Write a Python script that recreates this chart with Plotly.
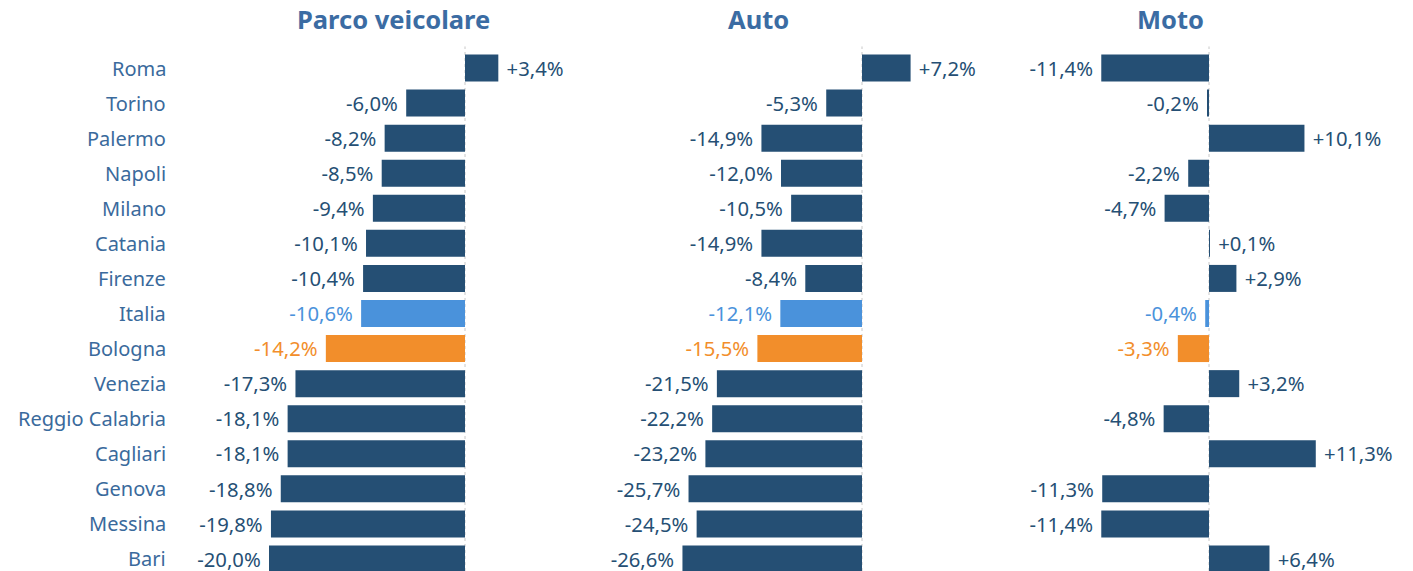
import plotly.graph_objects as go

cities = ["Roma", "Torino", "Palermo", "Napoli", "Milano", "Catania", "Firenze", "Italia",
          "Bologna", "Venezia", "Reggio Calabria", "Cagliari", "Genova", "Messina", "Bari"]
parco = [3.4, -6.0, -8.2, -8.5, -9.4, -10.1, -10.4, -10.6, -14.2, -17.3, -18.1, -18.1, -18.8, -19.8, -20.0]
auto = [7.2, -5.3, -14.9, -12.0, -10.5, -14.9, -8.4, -12.1, -15.5, -21.5, -22.2, -23.2, -25.7, -24.5, -26.6]
moto = [-11.4, -0.2, 10.1, -2.2, -4.7, 0.1, 2.9, -0.4, -3.3, 3.2, -4.8, 11.3, -11.3, -11.4, 6.4]
titles = ["Parco veicolare", "Auto", "Moto"]

W, H = 1413, 571
DARK = "#254f74"
BLUE = "#4a92db"
ORANGE = "#f28e2b"
LABEL = "#3a6a9c"
TITLE = "#3b6ca3"
FONT = "Noto Sans"

def color_for(c):
    return BLUE if c == "Italia" else ORANGE if c == "Bologna" else DARK

colors = [color_for(c) for c in cities]
NB = "\u00a0"

def fmt(v):
    s = f"{v:+.1f}%".replace(".", ",")
    return NB + s if v > 0 else s + NB

# panel pixel layout: (left px, right px, zero px, px per unit)
panels = [(175, 610, 465, 9.8), (620, 1000, 862, 6.75), (1010, 1413, 1209, 9.45)]
title_x = [393, 758, 1170]
row0_px, pitch = 68, 35.07
top_px = row0_px - pitch / 2
ybot = (H - row0_px) / pitch

fig = go.Figure()
shapes = []
annotations = []
for i, (vals, (lp, rp, zp, sc)) in enumerate(zip([parco, auto, moto], panels)):
    xa = "x" if i == 0 else f"x{i+1}"
    fig.add_trace(go.Bar(
        x=vals, y=cities, orientation="h", marker_color=colors, marker_line_width=0,
        text=[fmt(v) for v in vals], textposition="outside",
        textfont=dict(color=colors, size=21, family=FONT),
        cliponaxis=False, xaxis=xa, yaxis="y", hoverinfo="skip", showlegend=False,
    ))
    rng = [(lp - zp) / sc, (rp - zp) / sc]
    key = "xaxis" if i == 0 else f"xaxis{i+1}"
    fig.layout[key] = dict(domain=[lp / W, rp / W], range=rng, visible=False, fixedrange=True)
    shapes.append(dict(type="line", xref=xa, yref="paper", x0=0, x1=0, y0=0, y1=1 - (top_px - 4) / H,
                       line=dict(color="#c8c8c8", width=1, dash="dot"), layer="below"))
    annotations.append(dict(text=f"<b>{titles[i]}</b>", x=title_x[i] / W, y=1 - 19 / H, xref="paper", yref="paper",
                            xanchor="center", yanchor="middle", showarrow=False,
                            font=dict(size=25.5, color=TITLE, family=FONT)))

for c in cities:
    annotations.append(dict(text=c, x=168 / W, y=c, xref="paper", yref="y", xanchor="right",
                            yanchor="middle", showarrow=False, font=dict(size=20, color=LABEL, family=FONT)))

fig.update_layout(
    width=W, height=H, autosize=False,
    yaxis=dict(domain=[0, 1 - top_px / H], range=[ybot, -0.5], visible=False, type="category",
               categoryarray=cities, fixedrange=True),
    bargap=0.23, shapes=shapes, annotations=annotations,
    margin=dict(l=0, r=0, t=0, b=0), plot_bgcolor="white", paper_bgcolor="white",
    font=dict(family=FONT),
)
fig.write_html("out.html", config={"displayModeBar": False},
               post_script="document.body.style.margin='0';document.body.style.overflow='hidden';")
